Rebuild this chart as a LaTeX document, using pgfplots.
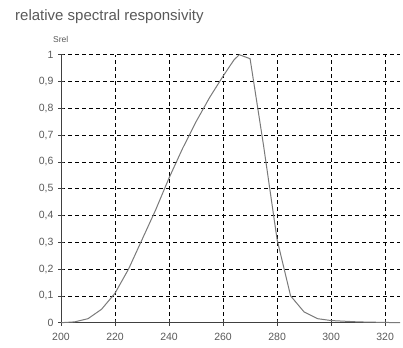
\documentclass[border=0pt]{standalone}
\usepackage{pgfplots}
\pgfplotsset{compat=1.18}
\usepackage{fontspec}
\setmainfont{Liberation Sans}
\definecolor{txt}{HTML}{595959}
\definecolor{crv}{HTML}{7A7A7A}
\begin{document}
\begin{tikzpicture}[x=1pt,y=1pt]
\useasboundingbox (0,0) rectangle (403,347);
\node[anchor=base west, text=txt, font=\fontsize{15}{17}\selectfont, inner sep=0] at (15,326) {relative spectral responsivity};
\node[anchor=base west, text=txt, font=\fontsize{8.5}{9}\selectfont, inner sep=0] at (53,304) {Srel};
\begin{axis}[
  at={(61pt,24.3pt)}, anchor=origin,
  scale only axis, width=339pt, height=268pt,
  xmin=200, xmax=325.5, ymin=0, ymax=1,
  axis lines*=left,
  axis line style={draw=black!75, line width=0.8pt},
  xtick={200,220,...,320},
  ytick={0,0.1,...,1},
  grid=major,
  major grid style={black, dashed, line width=0.6pt, dash pattern=on 4pt off 3pt},
  tick align=center, major tick length=6pt,
  tick style={black!75, line width=0.6pt},
  /pgf/number format/assume math mode=true,
  /pgf/number format/use comma,
  /pgf/number format/fixed,
  ticklabel style={text=txt, font=\fontsize{10.5}{12}\selectfont},
  xticklabel style={yshift=-4pt},
  yticklabel style={xshift=-1pt},
  clip=false,
]
\addplot[crv, line width=1pt] coordinates {
(200,0) (205,0.003) (210,0.015) (215,0.05) (220,0.11) (225,0.2) (230,0.31)
(235,0.42) (240,0.54) (245,0.65) (250,0.75) (255,0.84) (260,0.92) (264,0.98)
(266,1.0) (270,0.985) (275,0.66) (280,0.31) (285,0.1) (290,0.04) (295,0.015)
(300,0.008) (310,0.003) (320,0.001) (325.5,0)
};
\end{axis}
\end{tikzpicture}
\end{document}
